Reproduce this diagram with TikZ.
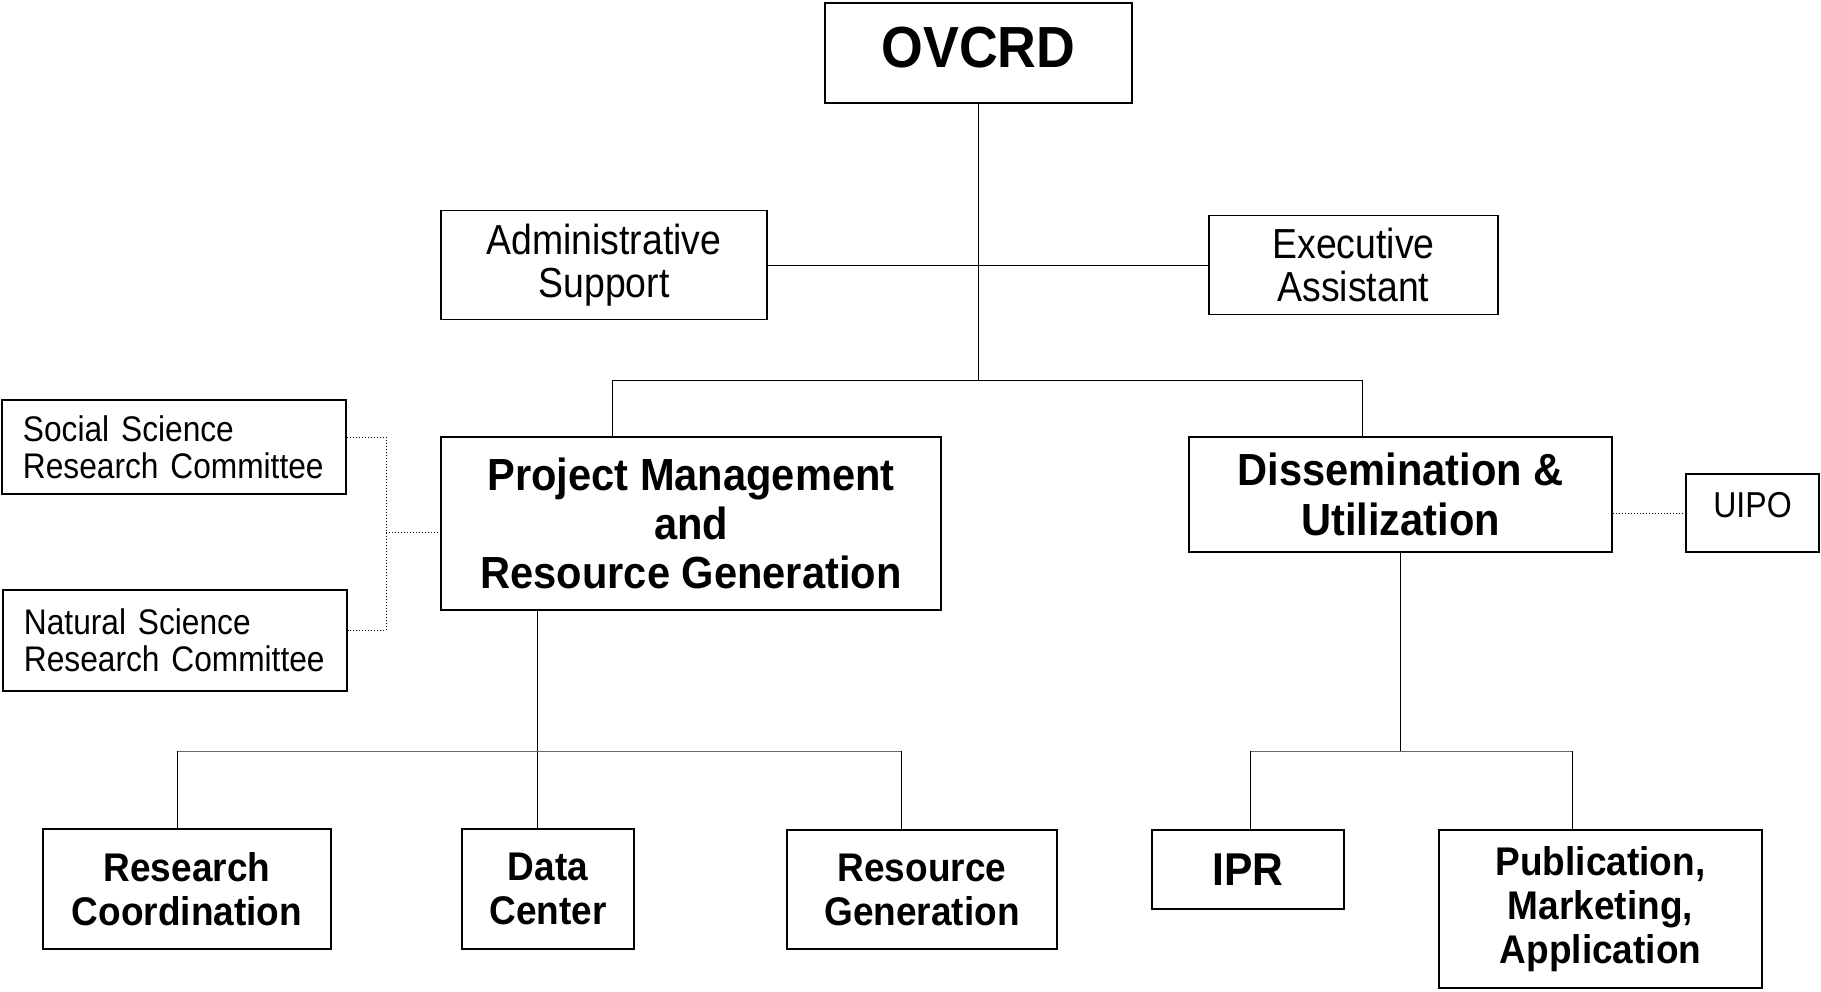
\documentclass[tikz,border=0pt]{standalone}
\usepackage{fontspec}
\setmainfont{Liberation Sans}[FakeStretch=0.925]
\newfontfamily\slimfont{Liberation Sans}[FakeStretch=0.89]
\usepackage{tikz}
\tikzset{>=latex}
\usetikzlibrary{calc}

\begin{document}
\begin{tikzpicture}[x=0.5pt, y=-0.5pt,
    unit/.style={draw, line width=0.6pt, align=center, inner sep=0pt},
    head/.style={font=\bfseries\fontsize{22.5}{24.7}\selectfont},
    sub/.style={font=\bfseries\fontsize{20}{22}\selectfont},
    staff/.style={font=\slimfont\fontsize{21}{21.5}\selectfont},
    cttee/.style={font=\slimfont\fontsize{17.8}{18.6}\selectfont, align=left, inner xsep=10.5pt, text width=151pt},
    dots/.style={densely dotted, line width=0.5pt},
    faint/.style={line width=0.5pt, black!60}]
  \useasboundingbox (0,0) rectangle (1821,991);
  \node[unit, font=\bfseries\fontsize{29}{34}\selectfont, text depth=6pt, minimum width=153.5pt, minimum height=50pt] (ovcrd) at (978.5,53) {OVCRD};
  \node[unit, staff, minimum width=163pt, minimum height=54.5pt] (admin) at (604,265) {Administrative\\Support};
  \node[unit, staff, minimum width=144.5pt, minimum height=49.5pt] (exec) at (1353.5,265) {Executive\\Assistant};
  \node[unit, head, minimum width=250pt, minimum height=86.5pt] (pmrg) at (691,523.5) {Project Management\\and\\Resource Generation};
  \node[unit, head, minimum width=211.5pt, minimum height=57.5pt] (dissem) at (1400.5,494.5) {Dissemination \&\\Utilization};
  \node[unit, font=\slimfont\fontsize{18}{20}\selectfont, text depth=8pt, minimum width=66.5pt, minimum height=39pt] (uipo) at (1752.5,513) {UIPO};
  \node[unit, cttee, minimum height=47pt] (ssrc) at (174,447) {Social Science\\Research Committee};
  \node[unit, cttee, minimum height=50.5pt] (nsrc) at (175,640.5) {Natural Science\\Research Committee};
  \node[unit, sub, minimum width=144pt, minimum height=60pt] (rescoord) at (187,889) {Research\\Coordination};
  \node[unit, sub, minimum width=86pt, minimum height=60pt] (datac) at (548,889) {Data\\Center};
  \node[unit, sub, minimum width=135pt, minimum height=59.5pt] (resgen) at (922,889.5) {Resource\\Generation};
  \node[unit, font=\bfseries\fontsize{23}{26}\selectfont, minimum width=96pt, minimum height=39.5pt] (ipr) at (1248,869.5) {IPR};
  \node[unit, sub, minimum width=161.5pt, minimum height=79pt] (pubm) at (1600.5,909) {Publication,\\Marketing,\\Application};

  \coordinate (pmtop) at (612,380);
  \coordinate (dutop) at (1362,380);
  \coordinate (brktop) at (386,437);
  \coordinate (brkmid) at (386,532);
  \coordinate (brkbot) at (386,630);
  \coordinate (pmdrop) at (537,751);
  \coordinate (rcbar) at (177,751);
  \coordinate (rgbar) at (901,751);
  \coordinate (dudrop) at (1400.5,751);
  \coordinate (iprbar) at (1250,751);
  \coordinate (pubbar) at (1572,751);

  \draw[line width=0.5pt] (ovcrd.south) -- (ovcrd.south |- pmtop);
  \draw[line width=0.5pt] (admin.east) -- (exec.west);
  \draw[line width=0.5pt] (pmrg.north -| pmtop) -- (pmtop) -- (dutop) -- (dissem.north -| dutop);
  \draw[line width=0.5pt] (pmrg.south -| pmdrop) -- (datac.north -| pmdrop);
  \draw[faint] (rcbar) -- (rgbar);
  \draw[line width=0.5pt] (rescoord.north -| rcbar) -- (rcbar);
  \draw[line width=0.5pt] (resgen.north -| rgbar) -- (rgbar);
  \draw[line width=0.5pt] (dissem.south) -- (dudrop);
  \draw[faint] (iprbar) -- (pubbar);
  \draw[line width=0.5pt] (ipr.north -| iprbar) -- (iprbar);
  \draw[line width=0.5pt] (pubm.north -| pubbar) -- (pubbar);
  \draw[dots] (ssrc.east |- brktop) -- (brktop) -- (brkbot) -- (nsrc.east |- brkbot);
  \draw[dots] (brkmid) -- (pmrg.west |- brkmid);
  \draw[dots] (dissem.east |- uipo.west) -- (uipo.west);
\end{tikzpicture}
\end{document}
